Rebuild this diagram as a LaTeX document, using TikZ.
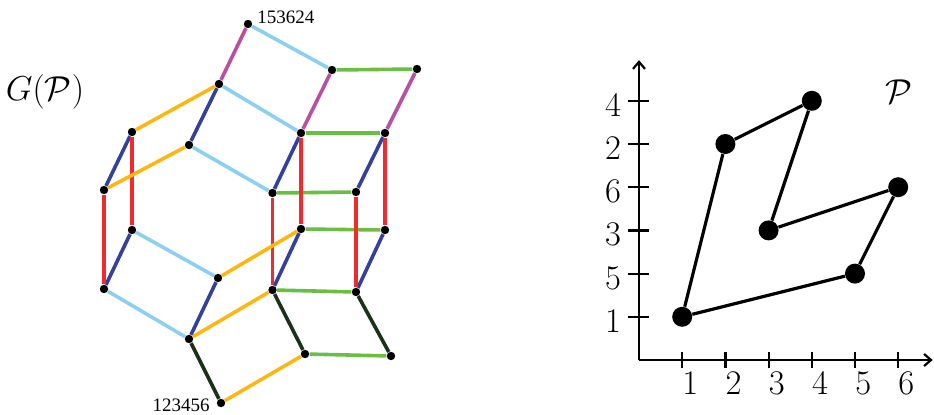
\documentclass[tikz,border=0pt]{standalone}
\usepackage{amsmath, amsfonts, amssymb}
\usepackage{fontspec}
\newfontfamily\smallserif{Liberation Serif}
\usetikzlibrary{arrows.meta}

\definecolor{cmag}{RGB}{184,80,160}
\definecolor{csky}{RGB}{140,207,239}
\definecolor{cgrn}{RGB}{108,189,69}
\definecolor{cblu}{RGB}{52,64,154}
\definecolor{cred}{RGB}{238,43,47}
\definecolor{corg}{RGB}{253,183,20}
\definecolor{cdgr}{RGB}{27,49,26}

\tikzset{
  vtx/.style={circle, fill=black, inner sep=0pt, minimum size=4.2pt},
  pt/.style={circle, fill=black, inner sep=0pt, minimum size=10pt},
  edge/.style={line width=1.8pt},
  axis/.style={line width=1.1pt},
  bigtext/.style={font=\fontsize{16}{19}\selectfont},
  permlabel/.style={font=\smallserif\fontsize{9.5}{11}\selectfont, inner sep=0pt}
}

\begin{document}
\begin{tikzpicture}[x=0.5pt, y=-0.5pt]
            \useasboundingbox (0,0) rectangle (934,414);
            % vertices of G(P)
            \node[vtx] (a) at (248,24) {};
            \node[vtx] (b) at (332,70) {};
            \node[vtx] (c) at (417,69) {};
            \node[vtx] (d) at (219,84) {};
            \node[vtx] (e) at (132,132) {};
            \node[vtx] (f) at (301,133) {};
            \node[vtx] (g) at (385,133) {};
            \node[vtx] (h) at (189,145) {};
            \node[vtx] (i) at (104,190) {};
            \node[vtx] (j) at (272.5,193) {};
            \node[vtx] (k) at (356,192) {};
            \node[vtx] (l) at (132,230) {};
            \node[vtx] (m) at (301,229) {};
            \node[vtx] (n) at (385,230) {};
            \node[vtx] (o) at (218,278) {};
            \node[vtx] (p) at (104,289) {};
            \node[vtx] (q) at (272.5,290) {};
            \node[vtx] (r) at (356,292) {};
            \node[vtx] (s) at (189,339) {};
            \node[vtx] (t) at (305,354) {};
            \node[vtx] (u) at (391,356) {};
            \node[vtx] (v) at (221,403) {};
            % edges, one colour per transposition
            \foreach \u/\w in {a/d, b/f, c/g}
              \draw[edge, cmag] (\u) -- (\w);
            \foreach \u/\w in {a/b, d/f, h/j, l/o, p/s}
              \draw[edge, csky] (\u) -- (\w);
            \foreach \u/\w in {b/c, f/g, j/k, m/n, q/r, t/u}
              \draw[edge, cgrn] (\u) -- (\w);
            \foreach \u/\w in {d/h, e/i, f/j, g/k, l/p, o/s, m/q, n/r}
              \draw[edge, cblu] (\u) -- (\w);
            \foreach \u/\w in {e/l, i/p, f/m, j/q, g/n, k/r}
              \draw[edge, cred] (\u) -- (\w);
            \foreach \u/\w in {d/e, h/i, o/m, q/s, v/t}
              \draw[edge, corg] (\u) -- (\w);
            \foreach \u/\w in {q/t, r/u, s/v}
              \draw[edge, cdgr] (\u) -- (\w);
            \node[permlabel, anchor=base west] (top) at (257,23) {153624};
            \node[permlabel, anchor=base east] (bot) at (210,411) {123456};
            \node[bigtext] (gp) at (45,92) {$G(\mathcal{P})$};
            % the point set P
            \begin{scope}[xshift=319.5pt, yshift=-180pt, x=21.6pt, y=21.6pt]
              \coordinate (o0) at (0,0);
              \coordinate (xend) at (6.8,0);
              \coordinate (yend) at (0,6.94);
              \draw[axis, -{Straight Barb[length=3.5pt, width=6pt]}] (o0) -- (xend);
              \draw[axis, -{Straight Barb[length=3.5pt, width=6pt]}] (o0) -- (yend);
              \foreach \k in {1,...,6} {
                \draw[axis] (\k,0.19) -- (\k,-0.19);
                \draw[axis] (-0.25,\k) -- (0.23,\k);
                \node[bigtext] at (\k+0.19,-0.53) {$\k$};
              }
              \foreach \k/\lab in {1/1, 2/5, 3/3, 4/6, 5/2, 6/4}
                \node[bigtext] at (-0.6,\k-0.1) {$\lab$};
              \node[pt] (p1) at (1,1) {};
              \node[pt] (p2) at (2,5) {};
              \node[pt] (p3) at (3,3) {};
              \node[pt] (p4) at (4,6) {};
              \node[pt] (p5) at (5,2) {};
              \node[pt] (p6) at (6,4) {};
              \draw[line width=1.6pt, line join=round] (p1) -- (p2) -- (p4) -- (p3) -- (p6) -- (p5) -- (p1);
              \node[bigtext] (pp) at (6.02,6.2) {$\mathcal{P}$};
            \end{scope}
        \end{tikzpicture}
\end{document}
